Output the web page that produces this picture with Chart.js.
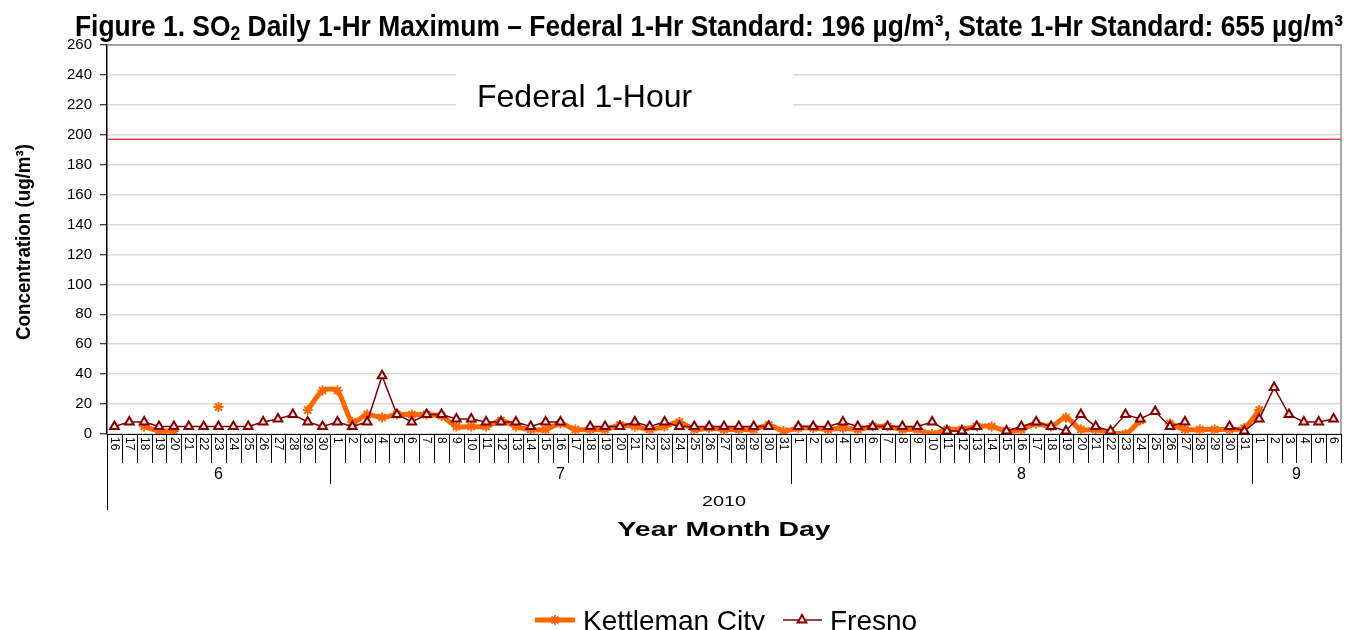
<!DOCTYPE html>
<html>
<head>
<meta charset="utf-8">
<script src="https://cdn.jsdelivr.net/npm/chart.js@4.4.1/dist/chart.umd.min.js"></script>
<style>
  html, body { margin: 0; padding: 0; background: #fff; }
  #wrap { position: relative; width: 1348px; height: 630px; overflow: hidden; }
  #title {
    position: absolute; left: 75px; top: 11px;
    font-family: "Liberation Sans Narrow", "Arial Narrow", "Liberation Sans", Arial, sans-serif;
    font-weight: bold; font-size: 30px; line-height: 30px; white-space: nowrap;
    transform-origin: 0 0; color: #000;
  }
  #title sub { font-size: 20px; vertical-align: -4px; line-height: 0; }
  canvas { position: absolute; left: 0; top: 0; }
</style>
</head>
<body>
<div id="wrap">
  <canvas id="so2Chart" width="1348" height="630"></canvas>
  <div id="title">Figure 1. SO<sub>2</sub> Daily 1-Hr Maximum – Federal 1-Hr Standard: 196 µg/m³, State 1-Hr Standard: 655 µg/m³</div>
</div>
<script>
// day ticks: June 16 .. Sept 6, 2010
const dayLabels = [
  "16","17","18","19","20","21","22","23","24","25","26","27","28","29","30",
  "1","2","3","4","5","6","7","8","9","10","11","12","13","14","15","16","17","18","19","20","21","22","23","24","25","26","27","28","29","30","31",
  "1","2","3","4","5","6","7","8","9","10","11","12","13","14","15","16","17","18","19","20","21","22","23","24","25","26","27","28","29","30","31",
  "1","2","3","4","5","6"
];
const monthLabels = ["6", "7", "8", "9"];
const monthDayCounts = [15, 31, 31, 6];
const yearLabel = "2010";

const kettleman = [
  null, null, 5, 2, 2, null, null, 18, null, null, null, null, null, 16, 29,
  29, 8, 13, 11, 13, 13, 13, 12, 5, 5, 5, 9, 5, 3, 3, 7, 3, 3, 3, 6, 5, 3, 5, 8, 3, 4, 3, 3, 3, 6, 2,
  4, 4, 3, 4, 3, 5, 5, 3, 3, 0, 3, 3, 5, 5, 2, 3, 7, 5, 11, 3, 3, 1, 0, 9, null, 7, 3, 3, 3, 3, 4,
  16, null, null, null, null, null
];
const fresno = [
  5, 8, 8, 5, 5, 5, 5, 5, 5, 5, 8, 10, 13, 8, 5,
  8, 5, 8, 39, 13, 8, 13, 13, 10, 10, 8, 8, 8, 5, 8, 8, null, 5, 5, 5, 8, 5, 8, 5, 5, 5, 5, 5, 5, 5, null,
  5, 5, 5, 8, 5, 5, 5, 5, 5, 8, 2, 2, 5, null, 2, 5, 8, 5, 2, 13, 5, 2, 13, 10, 15, 5, 8, null, null, 5, 2,
  10, 31, 13, 8, 8, 10
];
const yTicks = { min: 0, max: 260, step: 20 };
const federalLine = 197;
const federalLabel = "Federal 1-Hour";

const KC_COLOR = "#FF6600";
const FR_COLOR = "#800000";
const FR_FILL = "#fbe4e4";
const SANS = "'Liberation Sans', Arial, sans-serif";
const NARROW = "'Liberation Sans Narrow', 'Arial Narrow', 'Liberation Sans', Arial, sans-serif";

// squeeze/stretch text horizontally to a given width
function fitText(ctx, text, x, y, width, align) {
  const w = ctx.measureText(text).width;
  ctx.save();
  ctx.translate(x, y);
  ctx.scale(width / w, 1);
  ctx.textAlign = align || "center";
  ctx.fillText(text, 0, 0);
  ctx.restore();
}

const decorations = {
  id: "decorations",
  beforeDatasetsDraw(chart) {
    const { ctx, chartArea: a, scales: { y } } = chart;
    // federal standard line
    const yy = y.getPixelForValue(federalLine);
    ctx.save();
    ctx.strokeStyle = "#e04848";
    ctx.lineWidth = 1.5;
    ctx.beginPath();
    ctx.moveTo(a.left, yy);
    ctx.lineTo(a.right, yy);
    ctx.stroke();
    // label box
    ctx.fillStyle = "#fff";
    ctx.fillRect(456, 62, 337, 62);
    ctx.fillStyle = "#000";
    ctx.font = "32px " + SANS;
    ctx.textBaseline = "alphabetic";
    ctx.textAlign = "left";
    ctx.fillText(federalLabel, 477, 107);
    ctx.restore();
  },
  afterDraw(chart) {
    const { ctx, chartArea: a, scales: { x } } = chart;
    const step = x.getPixelForValue(1) - x.getPixelForValue(0);
    const edge = i => x.getPixelForValue(i) - step / 2;
    ctx.save();

    // plot border top/right
    ctx.strokeStyle = "#8c8c8c";
    ctx.lineWidth = 1.5;
    ctx.beginPath();
    ctx.moveTo(a.left, a.top);
    ctx.lineTo(a.right, a.top);
    ctx.lineTo(a.right, a.bottom);
    ctx.stroke();

    // day separators
    ctx.strokeStyle = "#000";
    ctx.lineWidth = 1;
    ctx.beginPath();
    for (let i = 0; i <= dayLabels.length; i++) {
      const px = Math.round(edge(i)) + 0.5;
      ctx.moveTo(px, a.bottom);
      ctx.lineTo(px, a.bottom + 29);
    }
    ctx.stroke();

    // day labels, rotated
    ctx.fillStyle = "#000";
    ctx.font = "12px " + SANS;
    ctx.textAlign = "left";
    ctx.textBaseline = "middle";
    dayLabels.forEach((d, i) => {
      ctx.save();
      ctx.translate(x.getPixelForValue(i), a.bottom + 3);
      ctx.rotate(Math.PI / 2);
      ctx.fillText(d, 0, 0);
      ctx.restore();
    });

    // month groups
    let start = 0;
    ctx.font = "16px " + SANS;
    ctx.textAlign = "center";
    ctx.beginPath();
    monthLabels.forEach((m, k) => {
      const end = start + monthDayCounts[k];
      const x0 = edge(start), x1 = edge(end);
      if (k > 0) {
        const px = Math.round(x0) + 0.5;
        ctx.moveTo(px, a.bottom);
        ctx.lineTo(px, a.bottom + 50);
      }
      ctx.fillText(m, (x0 + x1) / 2, a.bottom + 41);
      start = end;
    });
    const lx = Math.round(a.left) + 0.5;
    ctx.moveTo(lx, a.bottom);
    ctx.lineTo(lx, a.bottom + 76);
    ctx.stroke();

    // year + axis title
    const cx = (a.left + a.right) / 2;
    ctx.font = "15px " + SANS;
    fitText(ctx, yearLabel, cx, a.bottom + 68, 44);
    ctx.font = "bold 20px " + SANS;
    fitText(ctx, "Year Month Day", cx, a.bottom + 96, 213);

    // y axis title
    ctx.save();
    ctx.translate(24, 242);
    ctx.rotate(-Math.PI / 2);
    ctx.font = "bold 20px " + NARROW;
    fitText(ctx, "Concentration (ug/m³)", 0, 0, 196);
    ctx.restore();

    // legend
    const ly = 620;
    ctx.textAlign = "left";
    ctx.textBaseline = "alphabetic";
    ctx.font = "28px " + SANS;
    ctx.strokeStyle = KC_COLOR;
    ctx.lineWidth = 5;
    ctx.beginPath(); ctx.moveTo(535, ly); ctx.lineTo(575, ly); ctx.stroke();
    ctx.lineWidth = 2;
    Chart.helpers.drawPoint(ctx, { pointStyle: "star", radius: 5, rotation: 0, borderWidth: 2 }, 555, ly);
    ctx.fillStyle = "#000";
    ctx.fillText("Kettleman City", 583, 630);

    ctx.strokeStyle = FR_COLOR;
    ctx.lineWidth = 1.5;
    ctx.beginPath(); ctx.moveTo(783, ly); ctx.lineTo(822, ly); ctx.stroke();
    ctx.fillStyle = FR_FILL;
    ctx.lineWidth = 2;
    Chart.helpers.drawPoint(ctx, { pointStyle: "triangle", radius: 5, rotation: 0, borderWidth: 2 }, 802, ly);
    ctx.fillStyle = "#000";
    ctx.fillText("Fresno", 830, 630);

    ctx.restore();
  }
};

const ctx = document.getElementById("so2Chart").getContext("2d");
new Chart(ctx, {
  type: "line",
  data: {
    labels: dayLabels,
    datasets: [
      {
        label: "Kettleman City",
        data: kettleman,
        order: 1,
        borderColor: KC_COLOR,
        borderWidth: 5,
        tension: 0.25,
        spanGaps: false,
        pointStyle: "star",
        pointRadius: 5,
        pointBorderColor: KC_COLOR,
        pointBorderWidth: 2,
        pointBackgroundColor: KC_COLOR
      },
      {
        label: "Fresno",
        data: fresno,
        order: 0,
        borderColor: FR_COLOR,
        borderWidth: 1.5,
        tension: 0,
        spanGaps: false,
        pointStyle: "triangle",
        pointRadius: 5,
        pointBorderColor: FR_COLOR,
        pointBorderWidth: 2,
        pointBackgroundColor: FR_FILL
      }
    ]
  },
  options: {
    responsive: false,
    animation: false,
    layout: { padding: { top: 45, right: 3, left: 0, bottom: 0 } },
    plugins: {
      legend: { display: false },
      tooltip: { enabled: false },
      title: { display: false }
    },
    scales: {
      x: {
        type: "category",
        offset: true,
        grid: { display: false },
        border: { display: true, color: "#000", width: 1 },
        ticks: { display: false },
        afterFit(s) { s.height = 196; }
      },
      y: {
        min: yTicks.min,
        max: yTicks.max,
        ticks: {
          stepSize: yTicks.step,
          color: "#000",
          padding: 8,
          font: { family: SANS, size: 15 }
        },
        grid: { color: "#d9d9d9", lineWidth: 1.5, tickLength: 7, tickColor: "#000", tickWidth: 1 },
        border: { color: "#000", width: 1.5 },
        afterFit(s) { s.width = 107; }
      }
    }
  },
  plugins: [decorations]
});

// fit title to its width in the figure
const t = document.getElementById("title");
const tw = t.getBoundingClientRect().width;
t.style.transform = "scaleX(" + (1268 / tw) + ")";
</script>
</body>
</html>
